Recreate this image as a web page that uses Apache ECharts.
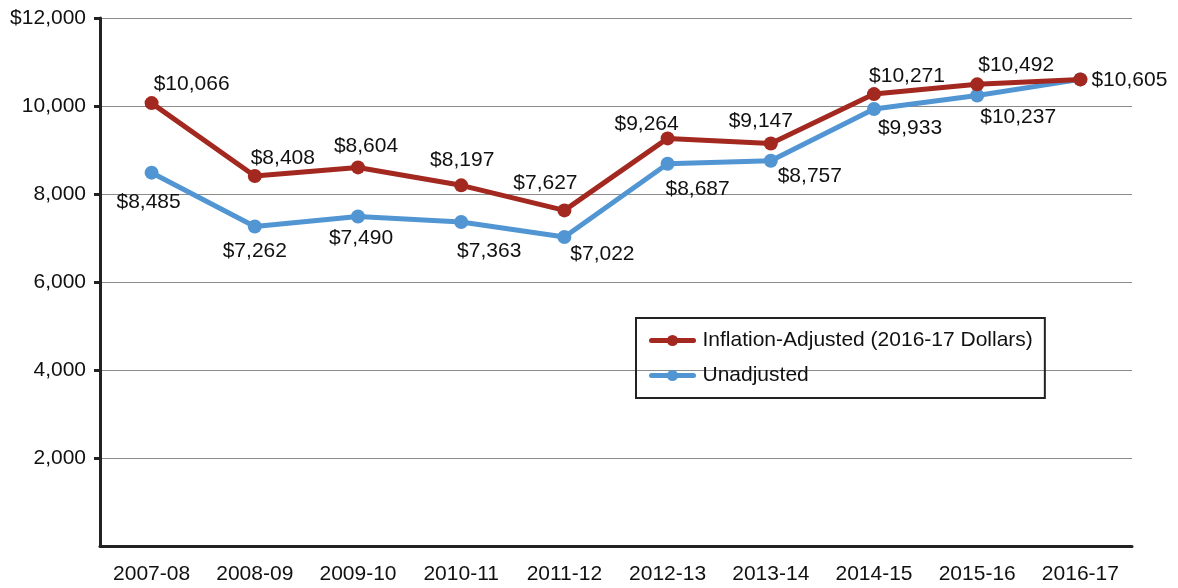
<!DOCTYPE html>
<html>
<head>
<meta charset="utf-8">
<script src="https://cdn.jsdelivr.net/npm/echarts@6/dist/echarts.min.js"></script>
<style>
  html, body { margin: 0; padding: 0; background: #fff; }
  #chart { width: 1178px; height: 588px; }
</style>
</head>
<body>
<div id="chart"></div>
<script>
// 数据
const years = ['2007-08', '2008-09', '2009-10', '2010-11', '2011-12', '2012-13', '2013-14', '2014-15', '2015-16', '2016-17'];
const adjusted = [10066, 8408, 8604, 8197, 7627, 9264, 9147, 10271, 10492, 10605];
const unadjusted = [8485, 7262, 7490, 7363, 7022, 8687, 8757, 9933, 10237, 10605];
const yTicks = [2000, 4000, 6000, 8000, 10000, 12000];

const RED = '#a3281f';
const BLUE = '#5295d3';
const FONT = 'Liberation Sans, Arial, sans-serif';
const FS = 21;

// 标签偏移 (相对数据点中心)
const redOffsets = [[40, -19], [28, -18], [8, -21], [1, -25], [-19, -27], [-21, -14], [-10, -22], [33, -18], [39, -19], [49, 1]];
const blueOffsets = [[-3, 30], [0, 25], [3, 22], [28, 29], [38, 17], [30, 25], [39, 16], [36, 19], [41, 22], null];

const money = v => '$' + v.toLocaleString('en-US');

const redData = adjusted.map((v, i) => ({
  value: v,
  label: { position: 'inside', offset: redOffsets[i] }
}));
const blueData = unadjusted.map((v, i) => ({
  value: v,
  label: blueOffsets[i] ? { position: 'inside', offset: blueOffsets[i] } : { show: false }
}));

const chart = echarts.init(document.getElementById('chart'));
chart.setOption({
  animation: false,
  textStyle: { fontFamily: FONT },
  grid: { left: 100, right: 46, top: 18, bottom: 42 },
  legend: {
    data: ['Inflation-Adjusted (2016-17 Dollars)', 'Unadjusted'],
    orient: 'vertical',
    left: 636,
    top: 318,
    borderColor: '#222',
    borderWidth: 2,
    padding: [12, 12, 12, 13],
    itemGap: 14,
    itemWidth: 42,
    itemHeight: 14,
    lineStyle: { width: 5, cap: 'round' },
    textStyle: { fontSize: FS, color: '#111', fontFamily: FONT, padding: [0, 0, 0, 4] }
  },
  xAxis: {
    type: 'category',
    data: years,
    boundaryGap: true,
    axisLine: { lineStyle: { color: '#222', width: 3 } },
    axisTick: { alignWithLabel: true, length: 10, lineStyle: { color: '#b84a4a', width: 1 } },
    axisLabel: { color: '#111', fontSize: FS, margin: 18, fontFamily: FONT }
  },
  yAxis: {
    type: 'value',
    min: 0,
    max: 12000,
    interval: 2000,
    axisLine: { show: true, lineStyle: { color: '#222', width: 3 } },
    axisTick: { show: true, length: 6, customValues: yTicks, lineStyle: { color: '#222', width: 3 } },
    splitLine: { lineStyle: { color: '#8c8c8c', width: 1 } },
    axisLabel: {
      color: '#111',
      fontSize: FS,
      margin: 14,
      fontFamily: FONT,
      customValues: yTicks,
      formatter: v => (v === yTicks[yTicks.length - 1] ? money(v) : v.toLocaleString('en-US'))
    }
  },
  series: [
    {
      name: 'Unadjusted',
      type: 'line',
      data: blueData,
      symbol: 'circle',
      symbolSize: 14,
      lineStyle: { color: BLUE, width: 5 },
      itemStyle: { color: BLUE },
      label: { show: true, color: '#111', fontSize: FS, fontFamily: FONT, formatter: p => money(p.value) },
      z: 2
    },
    {
      name: 'Inflation-Adjusted (2016-17 Dollars)',
      type: 'line',
      data: redData,
      symbol: 'circle',
      symbolSize: 14,
      lineStyle: { color: RED, width: 5 },
      itemStyle: { color: RED },
      label: { show: true, color: '#111', fontSize: FS, fontFamily: FONT, formatter: p => money(p.value) },
      z: 3
    }
  ]
});
</script>
</body>
</html>
